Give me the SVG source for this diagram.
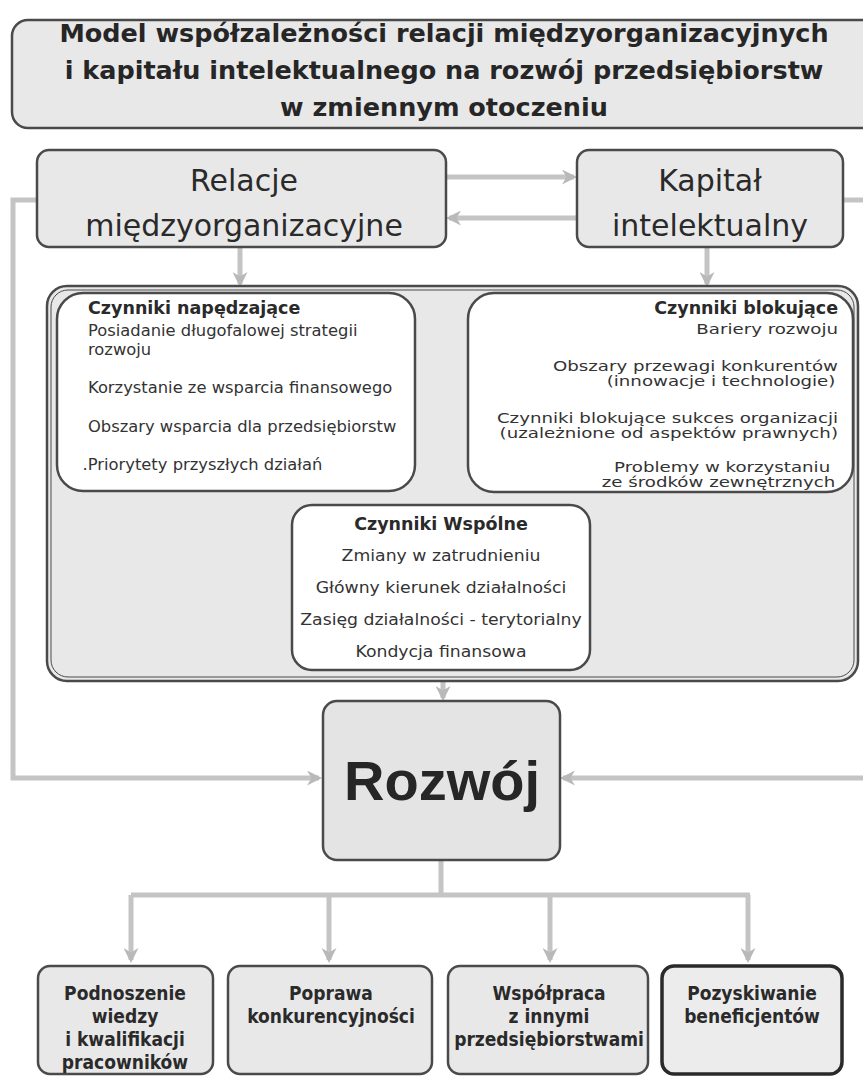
<svg xmlns="http://www.w3.org/2000/svg" width="863" height="1077" viewBox="0 0 863 1077">
<style>
.box{stroke:#4a4a4a;stroke-width:2.5}
.gray{fill:#e8e8e8}
.white{fill:#ffffff}
.conn{fill:none;stroke:#c4c4c4;stroke-width:5}
.title{font-family:"DejaVu Sans",sans-serif;font-weight:bold;font-size:25.5px;fill:#262626;text-anchor:middle}
.big{font-family:"DejaVu Sans",sans-serif;font-size:30px;fill:#2a2a2a;text-anchor:middle}
.hd{font-family:"DejaVu Sans",sans-serif;font-weight:bold;font-size:17.5px;fill:#2a2a2a}
.it{font-family:"DejaVu Sans",sans-serif;font-size:15px;fill:#333}
.it14{font-family:"DejaVu Sans",sans-serif;font-size:14px;fill:#333}
.it16{font-family:"DejaVu Sans",sans-serif;font-size:16px;fill:#333}
.bt{font-family:"DejaVu Sans Condensed","DejaVu Sans",sans-serif;font-weight:bold;font-size:19px;fill:#2a2a2a;text-anchor:middle}
.roz{font-family:"Liberation Sans",Arial,sans-serif;font-weight:bold;font-size:56px;fill:#262626;text-anchor:middle}
</style>
<defs>
<marker id="ah" viewBox="0 0 10 10" refX="8" refY="5" markerWidth="3" markerHeight="3" orient="auto" markerUnits="strokeWidth">
<path d="M0,0 L10,5 L0,10 L3,5 z" fill="#b9b9b9"/>
</marker>
</defs>
<rect width="863" height="1077" fill="#ffffff"/>

<g id="title">
<rect class="box gray" x="12" y="20" width="870" height="108" rx="16"/>
<text class="title" x="444" y="42">Model współzależności relacji międzyorganizacyjnych</text>
<text class="title" x="444" y="79">i kapitału intelektualnego na rozwój przedsiębiorstw</text>
<text class="title" x="444" y="116">w zmiennym otoczeniu</text>
</g>

<g id="connectors">
<path class="conn" d="M447,177 L574,177" marker-end="url(#ah)"/>
<path class="conn" d="M576,218 L449,218" marker-end="url(#ah)"/>
<path class="conn" d="M240,248 L240,284" marker-end="url(#ah)"/>
<path class="conn" d="M707,248 L707,284" marker-end="url(#ah)"/>
<path class="conn" d="M37,200 L13,200 L13,778 L319,778" marker-end="url(#ah)"/>
<path class="conn" d="M844,200 L870,200"/>
<path class="conn" d="M870,778 L563,778" marker-end="url(#ah)"/>
<path class="conn" d="M228,494 L288,585" marker-end="url(#ah)"/>
<path class="conn" d="M640,494 L598,585" marker-end="url(#ah)"/>
<path class="conn" d="M443,671 L443,698" marker-end="url(#ah)"/>
<path class="conn" d="M441,861 L441,895 M131,895 L750,895"/>
<path class="conn" d="M131,895 L131,960" marker-end="url(#ah)"/>
<path class="conn" d="M329,895 L329,960" marker-end="url(#ah)"/>
<path class="conn" d="M550,895 L550,960" marker-end="url(#ah)"/>
<path class="conn" d="M748,895 L748,960" marker-end="url(#ah)"/>
</g>

<g id="relacje">
<rect class="box gray" x="37" y="150" width="409" height="97" rx="12"/>
<text class="big" x="244" y="191">Relacje</text>
<text class="big" x="244" y="236">międzyorganizacyjne</text>
</g>

<g id="kapital">
<rect class="box gray" x="577" y="150" width="266" height="97" rx="12"/>
<text class="big" x="710" y="191">Kapitał</text>
<text class="big" x="710" y="236">intelektualny</text>
</g>

<g id="czynniki">
<rect class="box gray" x="47" y="286" width="811" height="395" rx="20"/>
<rect x="51" y="290" width="803" height="387" rx="17" fill="none" stroke="#4a4a4a" stroke-width="1"/>
</g>

<g id="napedzajace">
<rect class="box white" x="57" y="293" width="358" height="198" rx="26"/>
<text class="hd" x="88" y="314">Czynniki napędzające</text>
<g transform="matrix(1.09,0,0,1,-7.92,0)">
<text class="it" x="88" y="336">Posiadanie długofalowej strategii</text>
<text class="it" x="88" y="355">rozwoju</text>
<text class="it" x="88" y="393">Korzystanie ze wsparcia finansowego</text>
<text class="it" x="88" y="432">Obszary wsparcia dla przedsiębiorstw</text>
<text class="it" x="83" y="470">.Priorytety przyszłych działań</text>
</g>
</g>

<g id="blokujace">
<rect class="box white" x="468" y="293" width="385" height="199" rx="26"/>
<g text-anchor="end">
<text class="hd" x="838" y="314">Czynniki blokujące</text>
<g transform="matrix(1.3,0,0,1,-251.4,0)">
<text class="it14" x="838" y="334">Bariery rozwoju</text>
<text class="it14" x="838" y="371">Obszary przewagi  konkurentów</text>
<text class="it14" x="836" y="386">(innowacje i technologie)</text>
<text class="it14" x="838" y="423">Czynniki blokujące sukces organizacji</text>
<text class="it14" x="838" y="438">(uzależnione od aspektów prawnych)</text>
<text class="it14" x="832" y="472">Problemy w korzystaniu</text>
<text class="it14" x="836" y="487">ze środków zewnętrznych</text>
</g>
</g>
</g>

<g id="wspolne">
<rect class="box white" x="292" y="505" width="298" height="165" rx="20"/>
<g text-anchor="middle">
<text class="hd" x="441" y="530">Czynniki Wspólne</text>
<g transform="matrix(1.08,0,0,1,-35.28,0)">
<text class="it16" x="441" y="561">Zmiany w zatrudnieniu</text>
<text class="it16" x="441" y="593">Główny kierunek działalności</text>
<text class="it16" x="441" y="625">Zasięg działalności - terytorialny</text>
<text class="it16" x="441" y="657">Kondycja finansowa</text>
</g>
</g>
</g>

<g id="rozwoj">
<rect class="box" x="323" y="701" width="237" height="159" rx="14" fill="#e4e4e4"/>
<text class="roz" x="442" y="800">Rozwój</text>
</g>

<g id="b1">
<rect class="box gray" x="38" y="966" width="175" height="108" rx="12" fill="#ececec"/>
<text class="bt" x="125" y="1000">Podnoszenie</text>
<text class="bt" x="125" y="1023">wiedzy</text>
<text class="bt" x="125" y="1046">i kwalifikacji</text>
<text class="bt" x="125" y="1069">pracowników</text>
</g>

<g id="b2">
<rect class="box gray" x="228" y="966" width="204" height="108" rx="12" fill="#ececec"/>
<text class="bt" x="331" y="1000">Poprawa</text>
<text class="bt" x="331" y="1023">konkurencyjności</text>
</g>

<g id="b3">
<rect class="box gray" x="448" y="966" width="200" height="108" rx="12" fill="#ececec"/>
<text class="bt" x="549" y="1000">Współpraca</text>
<text class="bt" x="549" y="1023">z innymi</text>
<text class="bt" x="549" y="1046">przedsiębiorstwami</text>
</g>

<g id="b4">
<rect x="662" y="966" width="180" height="108" rx="12" fill="#ececec" stroke="#2a2a2a" stroke-width="3.5"/>
<text class="bt" x="752" y="1000">Pozyskiwanie</text>
<text class="bt" x="752" y="1023">beneficjentów</text>
</g>
</svg>
